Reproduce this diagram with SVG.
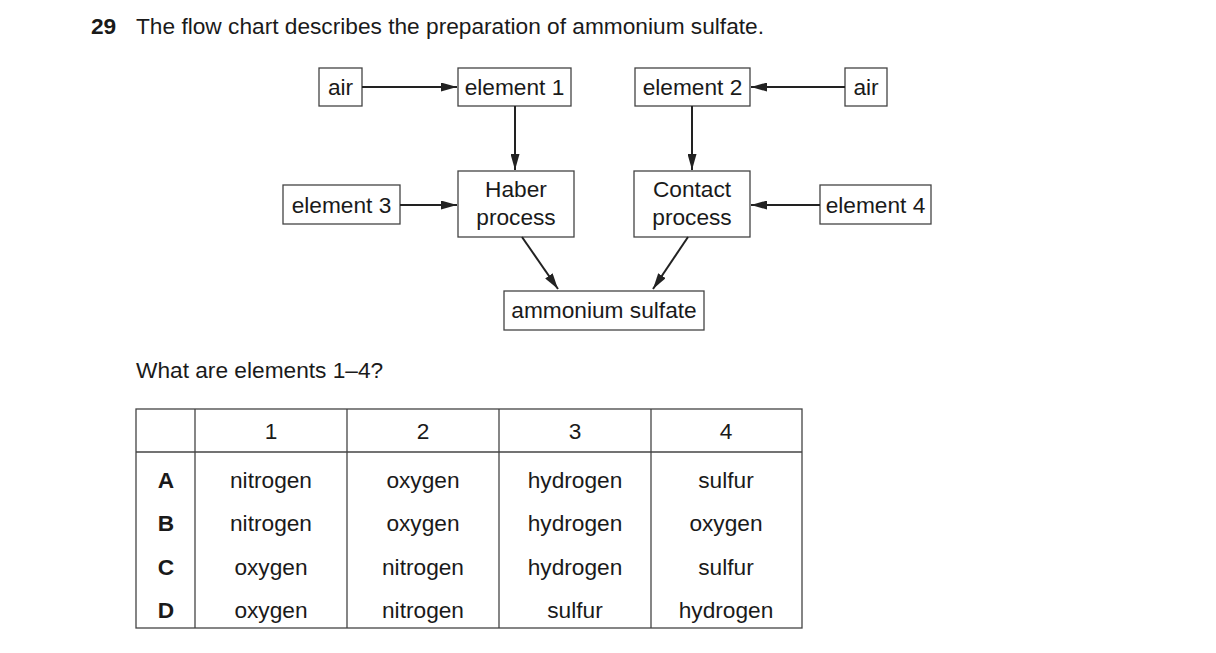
<svg xmlns="http://www.w3.org/2000/svg" width="1216" height="653" viewBox="0 0 1216 653">
<defs>
<style>
text{font-family:"Liberation Sans",Arial,sans-serif;font-size:22.7px;fill:#1a1a1a}
.b{fill:#fff;stroke:#444;stroke-width:1.3}
.c{stroke:#222;stroke-width:2;fill:none;marker-end:url(#a)}
.m{text-anchor:middle}
.t line{stroke:#444;stroke-width:1.3}
</style>
<marker id="a" viewBox="0 0 16 9" refX="16" refY="4.5" markerWidth="16" markerHeight="9" markerUnits="userSpaceOnUse" orient="auto"><path d="M0,0L16,4.5L0,9z" fill="#222"/></marker>
</defs>
<rect width="1216" height="653" fill="#fff"/>
<text x="91" y="34" font-weight="bold">29</text>
<text x="136" y="34">The flow chart describes the preparation of ammonium sulfate.</text>
<g id="air1"><rect class="b" x="319" y="68" width="43" height="38"/><text class="m" x="340.5" y="95">air</text></g>
<g id="element1"><rect class="b" x="458" y="68" width="113" height="38"/><text class="m" x="514.5" y="95">element 1</text></g>
<g id="element2"><rect class="b" x="635" y="68" width="115" height="38"/><text class="m" x="692.5" y="95">element 2</text></g>
<g id="air2"><rect class="b" x="845" y="68" width="42" height="38"/><text class="m" x="866" y="95">air</text></g>
<g id="element3"><rect class="b" x="283" y="185" width="117" height="39"/><text class="m" x="341.5" y="213">element 3</text></g>
<g id="haber"><rect class="b" x="458" y="171" width="116" height="66"/><text class="m" x="516" y="197">Haber</text><text class="m" x="516" y="225">process</text></g>
<g id="contact"><rect class="b" x="634" y="171" width="116" height="66"/><text class="m" x="692" y="197">Contact</text><text class="m" x="692" y="225">process</text></g>
<g id="element4"><rect class="b" x="820" y="185" width="111" height="39"/><text class="m" x="875.5" y="213">element 4</text></g>
<g id="ammonium"><rect class="b" x="504" y="291" width="200" height="39"/><text class="m" x="604" y="318">ammonium sulfate</text></g>
<g id="connectors">
<line class="c" x1="362" y1="87" x2="457" y2="87"/>
<line class="c" x1="845" y1="87" x2="751" y2="87"/>
<line class="c" x1="515" y1="106" x2="515" y2="170"/>
<line class="c" x1="692" y1="106" x2="692" y2="170"/>
<line class="c" x1="400" y1="205" x2="457" y2="205"/>
<line class="c" x1="820" y1="205" x2="751" y2="205"/>
<line class="c" x1="522" y1="237" x2="558" y2="289"/>
<line class="c" x1="688" y1="237" x2="653" y2="289"/>
</g>
<text x="136" y="378">What are elements 1–4?</text>
<g id="table" class="t">
<rect x="136" y="409" width="666" height="219" fill="none" stroke="#444" stroke-width="1.3"/>
<line x1="136" y1="452" x2="802" y2="452"/>
<line x1="195" y1="409" x2="195" y2="628"/>
<line x1="347" y1="409" x2="347" y2="628"/>
<line x1="499" y1="409" x2="499" y2="628"/>
<line x1="651" y1="409" x2="651" y2="628"/>
<text class="m" x="271" y="439">1</text><text class="m" x="423" y="439">2</text><text class="m" x="575" y="439">3</text><text class="m" x="726" y="439">4</text>
<text class="m" x="166" y="488" font-weight="bold">A</text><text class="m" x="271" y="488">nitrogen</text><text class="m" x="423" y="488">oxygen</text><text class="m" x="575" y="488">hydrogen</text><text class="m" x="726" y="488">sulfur</text>
<text class="m" x="166" y="531" font-weight="bold">B</text><text class="m" x="271" y="531">nitrogen</text><text class="m" x="423" y="531">oxygen</text><text class="m" x="575" y="531">hydrogen</text><text class="m" x="726" y="531">oxygen</text>
<text class="m" x="166" y="575" font-weight="bold">C</text><text class="m" x="271" y="575">oxygen</text><text class="m" x="423" y="575">nitrogen</text><text class="m" x="575" y="575">hydrogen</text><text class="m" x="726" y="575">sulfur</text>
<text class="m" x="166" y="618" font-weight="bold">D</text><text class="m" x="271" y="618">oxygen</text><text class="m" x="423" y="618">nitrogen</text><text class="m" x="575" y="618">sulfur</text><text class="m" x="726" y="618">hydrogen</text>
</g>
</svg>
